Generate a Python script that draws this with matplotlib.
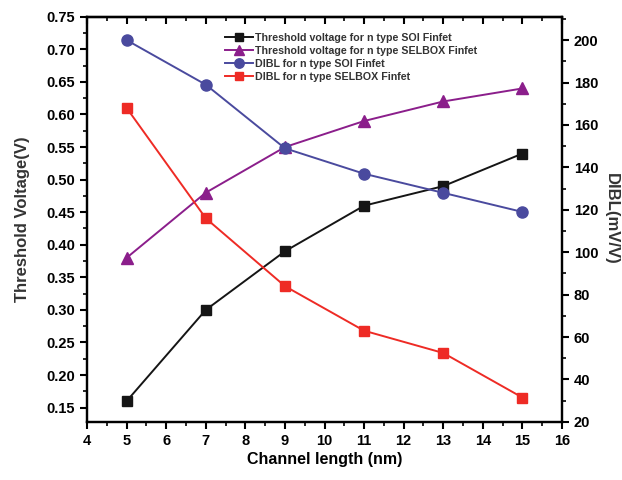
import matplotlib
matplotlib.use("Agg")
import matplotlib.pyplot as plt
from matplotlib.ticker import MultipleLocator

plt.rcParams['font.family'] = ['Liberation Sans', 'DejaVu Sans']
plt.rcParams['font.weight'] = 'bold'

length = [5, 7, 9, 11, 13, 15]
vt_soi = [0.16, 0.30, 0.39, 0.46, 0.49, 0.54]
vt_selbox = [0.38, 0.48, 0.55, 0.59, 0.62, 0.64]
dibl_soi = [200, 179, 149, 137, 128, 119]
dibl_selbox = [168, 116, 84, 63, 52.5, 31.5]

labels = ["Threshold voltage for n type SOI Finfet",
          "Threshold voltage for n type SELBOX Finfet",
          "DIBL for n type SOI Finfet",
          "DIBL for n type SELBOX Finfet"]

fig = plt.figure(figsize=(6.22, 4.8), dpi=100)
ax = fig.add_axes([0.140, 0.121, 0.7635, 0.844])
ax2 = ax.twinx()

l1, = ax.plot(length, vt_soi, color='#151515', marker='s', markersize=7, lw=1.4)
l2, = ax.plot(length, vt_selbox, color='#8b1e8b', marker='^', markersize=8, lw=1.4)
l3, = ax2.plot(length, dibl_soi, color='#4a4a9e', marker='o', markersize=8, lw=1.4)
l4, = ax2.plot(length, dibl_selbox, color='#ee2b25', marker='s', markersize=7, lw=1.4)

ax.set_xlim(4, 16)
ax.set_ylim(0.128, 0.75)
ax2.set_ylim(20, 211)

ax.xaxis.set_major_locator(MultipleLocator(1))
ax.xaxis.set_minor_locator(MultipleLocator(0.5))
ax.yaxis.set_major_locator(MultipleLocator(0.05))
ax.yaxis.set_minor_locator(MultipleLocator(0.025))
ax.yaxis.set_major_formatter(plt.FormatStrFormatter('%.2f'))
ax2.yaxis.set_major_locator(MultipleLocator(20))
ax2.yaxis.set_minor_locator(MultipleLocator(10))

ax.tick_params(axis='both', which='major', direction='out', length=5, width=1.5, labelsize=10.5)
ax.tick_params(axis='both', which='minor', direction='out', length=3, width=1.2)
ax2.tick_params(axis='y', which='major', direction='out', length=5, width=1.5, labelsize=10.5)
ax2.tick_params(axis='y', which='minor', direction='out', length=3, width=1.2)

# top axis: ticks pointing inward, no labels
top = ax.secondary_xaxis('top')
top.xaxis.set_major_locator(MultipleLocator(1))
top.xaxis.set_minor_locator(MultipleLocator(0.5))
top.tick_params(which='major', direction='in', length=5, width=1.5, labeltop=False)
top.tick_params(which='minor', direction='in', length=3, width=1.2)
top.spines['top'].set_linewidth(1.6)

for a in (ax, ax2):
    for s in a.spines.values():
        s.set_linewidth(1.6)

ax.set_xlabel("Channel length (nm)", fontsize=11.5, fontweight='bold', labelpad=3)
ax.set_ylabel("Threshold Voltage(V)", fontsize=12, fontweight='bold', color='#333333', labelpad=12)
ax2.set_ylabel("DIBL(mV/V)", fontsize=12, fontweight='bold', color='#333333', rotation=270, labelpad=15)

ax.legend([l1, l2, l3, l4], labels, loc='upper left', bbox_to_anchor=(0.27, 0.985),
          frameon=False, fontsize=7.7, handlelength=2.6, handletextpad=0.2,
          labelspacing=0.3, markerscale=0.85, labelcolor='#333333')

fig.savefig("out.png", dpi=100)
